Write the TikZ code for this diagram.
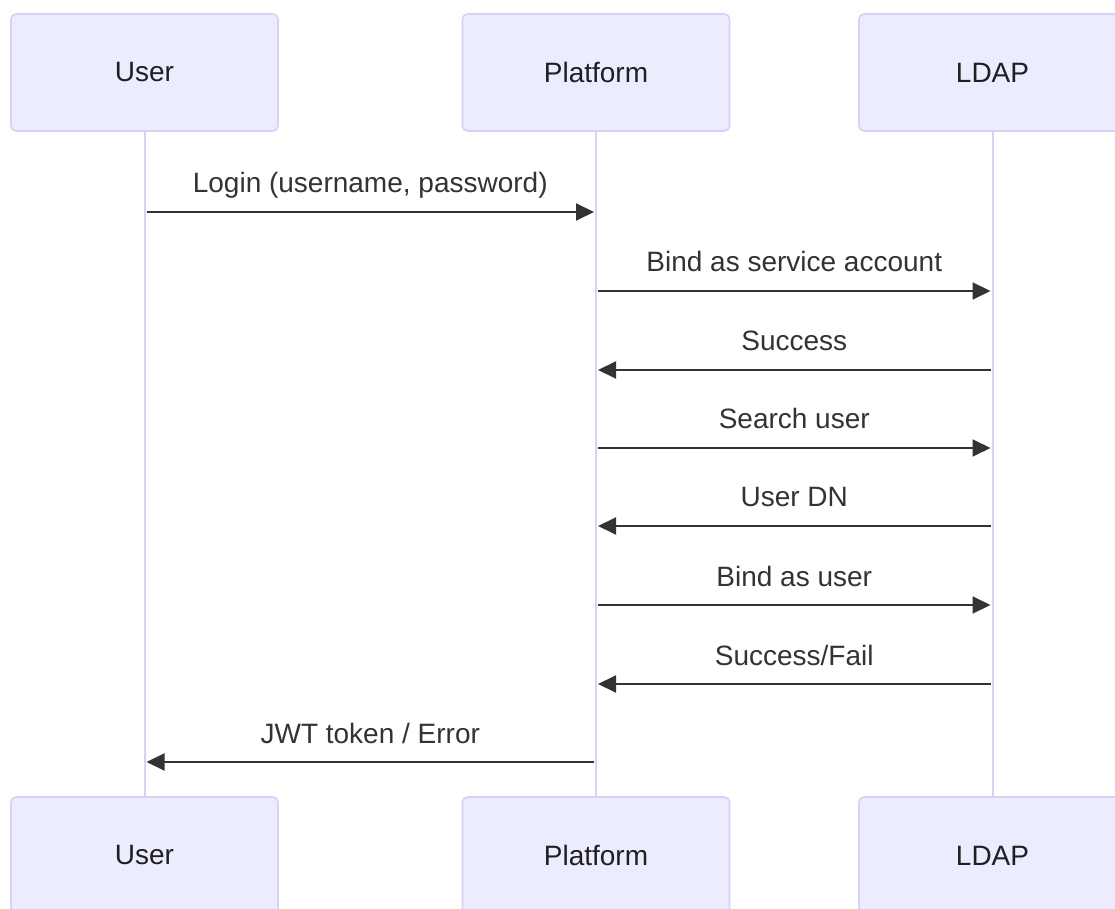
\documentclass[tikz,border=0pt]{standalone}
\usepackage{fontspec}
\setmainfont{Liberation Sans}
\usetikzlibrary{arrows.meta,calc,positioning}
\definecolor{actorfill}{HTML}{ECECFF}
\definecolor{actorline}{HTML}{D9D0F7}
\definecolor{msgline}{HTML}{333333}

\tikzset{
  actor/.style={draw=actorline, line width=0.8pt, fill=actorfill, rounded corners=2.5pt,
    minimum width=133.5pt, minimum height=58.5pt, inner sep=0pt,
    font=\fontsize{14}{16}\selectfont, text=black!88},
  lifeline/.style={draw=actorline, line width=1pt},
  msg/.style={draw=msgline, line width=1pt, shorten <=1pt, shorten >=1pt,
    -{Triangle[length=9pt,width=8.5pt]}},
  msglabel/.style={font=\fontsize{14}{16}\selectfont, text=msgline, anchor=base, yshift=9.5pt}
}

\begin{document}
\begin{tikzpicture}[x=0.5pt,y=-0.5pt]
\useasboundingbox (0,0) rectangle (1115,909);
\fill[white] (0,0) rectangle (1115,909);
\begin{scope}
\clip (0,0) rectangle (1115,909);

\node[actor] (userT) at (144.5,72.5) {User};
\node[actor] (platT) at (596,72.5) {Platform};
\node[actor] (ldapT) at (992.5,72.5) {LDAP};
\node[actor] (userB) at (144.5,855.5) {User};
\node[actor] (platB) at (596,855.5) {Platform};
\node[actor] (ldapB) at (992.5,855.5) {LDAP};

\draw[lifeline] (userT) -- (userB);
\draw[lifeline] (platT) -- (platB);
\draw[lifeline] (ldapT) -- (ldapB);

\coordinate (u1) at (userT |- 0,212);
\coordinate (p1) at (platT |- 0,212);
\coordinate (p2) at (platT |- 0,291);
\coordinate (l2) at (ldapT |- 0,291);
\coordinate (l3) at (ldapT |- 0,370);
\coordinate (p3) at (platT |- 0,370);
\coordinate (p4) at (platT |- 0,448);
\coordinate (l4) at (ldapT |- 0,448);
\coordinate (l5) at (ldapT |- 0,526);
\coordinate (p5) at (platT |- 0,526);
\coordinate (p6) at (platT |- 0,605);
\coordinate (l6) at (ldapT |- 0,605);
\coordinate (l7) at (ldapT |- 0,684);
\coordinate (p7) at (platT |- 0,684);
\coordinate (p8) at (platT |- 0,762);
\coordinate (u8) at (userT |- 0,762);

\draw[msg] (u1) -- node[msglabel] {Login (username, password)} (p1);
\draw[msg] (p2) -- node[msglabel] {Bind as service account} (l2);
\draw[msg] (l3) -- node[msglabel] {Success} (p3);
\draw[msg] (p4) -- node[msglabel] {Search user} (l4);
\draw[msg] (l5) -- node[msglabel] {User DN} (p5);
\draw[msg] (p6) -- node[msglabel] {Bind as user} (l6);
\draw[msg] (l7) -- node[msglabel] {Success/Fail} (p7);
\draw[msg] (p8) -- node[msglabel] {JWT token / Error} (u8);
\end{scope}
\end{tikzpicture}
\end{document}
